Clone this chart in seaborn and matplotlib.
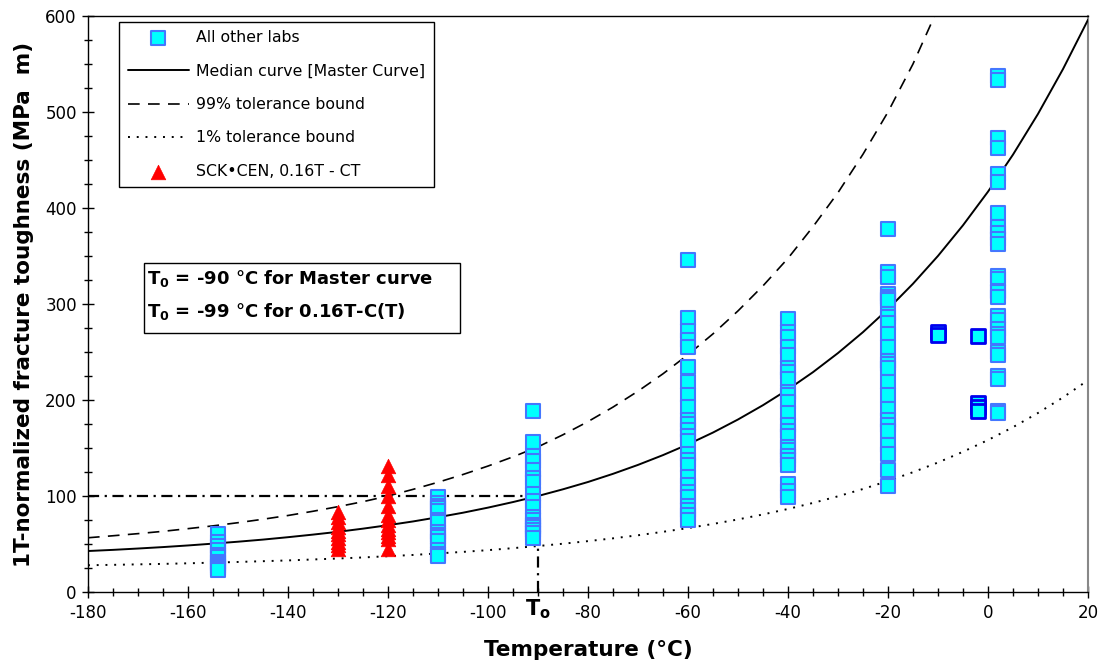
import numpy as np
import pandas as pd
import matplotlib
matplotlib.use("Agg")
import matplotlib.pyplot as plt
import seaborn as sns
from matplotlib.patches import Rectangle
from matplotlib.ticker import MultipleLocator

# temperatures of the "all other labs" columns and their toughness values
other_temps = [-154, -110, -91, -60, -40, -20, 2]
other_m154 = [60, 52, 48, 44, 39, 36, 31, 29, 27, 25, 23]
other_m110 = [99, 93, 90, 87, 84, 75, 73, 62, 59, 57, 53, 44, 40, 37]
other_m91 = [189, 156, 142, 136, 127, 119, 115, 102, 95, 89, 78, 75, 70, 68, 65, 61, 56]
other_m60 = [346, 285, 272, 262, 255, 234, 219, 205, 193, 179, 175, 169, 162, 157,
             144, 137, 132, 120, 111, 104, 99, 90, 85, 80, 75]
other_m40 = [284, 271, 266, 255, 247, 233, 229, 222, 208, 205, 198, 186, 174, 168,
             163, 151, 148, 142, 137, 132, 112, 105, 99]
other_m20 = [378, 333, 328, 310, 307, 305, 304, 290, 286, 280, 269, 255, 241, 238,
             233, 219, 205, 191, 179, 174, 168, 153, 144, 127, 110]
other_p2 = [538, 533, 473, 462, 435, 427, 395, 380, 374, 368, 362, 329, 326, 314,
            312, 307, 288, 283, 274, 269, 266, 250, 247, 225, 222, 189, 186]
other_values = [other_m154, other_m110, other_m91, other_m60, other_m40, other_m20, other_p2]

# the few points drawn with a darker edge
dark_temps = [-10, -2]
dark_m10 = [271, 268]
dark_m2 = [267, 197, 193, 189]
dark_values = [dark_m10, dark_m2]

# SCK-CEN 0.16T-CT
sck_temps = [-130, -120]
sck_m130 = [83, 78, 73, 68, 64, 60, 56, 52, 49, 45]
sck_m120 = [131, 122, 110, 100, 90, 80, 75, 70, 66, 62, 58, 55, 45]
sck_values = [sck_m130, sck_m120]

# curves read every 5 degC
curve_t = [-180, -175, -170, -165, -160, -155, -150, -145, -140, -135, -130,
           -125, -120, -115, -110, -105, -100, -95, -90, -85, -80, -75, -70,
           -65, -60, -55, -50, -45, -40, -35, -30, -25, -20, -15, -10, -5, 0,
           5, 10, 15, 20]
median_k = [42.7, 43.9, 45.3, 46.8, 48.5, 50.4, 52.4, 54.6, 57.1, 59.8, 62.7,
            66.0, 69.6, 73.5, 77.9, 82.6, 87.9, 93.7, 100.0, 107.0, 114.6, 123.1,
            132.4, 142.6, 153.8, 166.1, 179.7, 194.6, 211.0, 229.0, 248.9, 270.7,
            294.7, 321.1, 350.1, 382.0, 417.0, 455.6, 498.0, 544.7, 596.0]
upper_k = [56.5, 58.6, 60.8, 63.2, 66.0, 68.9, 72.2, 75.8, 79.7, 84.1, 88.9,
           94.1, 100.0, 106.9, 114.3, 122.4, 131.2, 140.8, 151.2, 163.8, 177.5,
           192.6, 209.2, 227.3, 247.2, 268.9, 292.8, 318.9, 347.6, 380.5, 416.0,
           456.0, 500.0, 550.0, 608.0, np.nan, np.nan, np.nan, np.nan, np.nan, np.nan]
lower_k = [27.9, 28.3, 28.8, 29.3, 29.9, 30.6, 31.3, 32.1, 32.9, 33.9, 34.9,
           36.0, 37.3, 38.6, 40.2, 41.8, 43.6, 45.7, 47.9, 50.3, 53.0, 55.9,
           59.1, 62.7, 66.6, 70.9, 75.6, 80.8, 86.5, 92.8, 99.7, 107.3, 115.7,
           124.8, 134.9, 146.1, 158.3, 171.7, 186.5, 202.7, 220.6]

T0 = -90
K_ref = 100
K_low_at_T0 = 47.9


def stack(temps, values):
    rows = []
    for t, vals in zip(temps, values):
        for v in vals:
            rows.append((t, v))
    return pd.DataFrame(rows, columns=["T", "K"])


df_other = stack(other_temps, other_values)
df_dark = stack(dark_temps, dark_values)
df_sck = stack(sck_temps, sck_values)
df_curves = pd.DataFrame({"T": curve_t, "median": median_k,
                          "upper": upper_k, "lower": lower_k})

sns.set_style("ticks")
plt.rcParams["font.family"] = ["DejaVu Sans"]
plt.rcParams["text.color"] = "black"
plt.rcParams["axes.labelcolor"] = "black"
plt.rcParams["xtick.color"] = "black"
plt.rcParams["ytick.color"] = "black"
plt.rcParams["axes.unicode_minus"] = False
plt.rcParams["mathtext.fontset"] = "custom"
plt.rcParams["mathtext.rm"] = "DejaVu Sans:bold"
plt.rcParams["mathtext.bf"] = "DejaVu Sans:bold"

fig = plt.figure(figsize=(11.05, 6.7), dpi=100)
ax = fig.add_axes([0.0796, 0.1164, 0.905, 0.8597])

# reference lines at T0
ax.plot([-180, T0], [K_ref, K_ref], color="black", lw=1.6,
        linestyle=(0, (5, 2.5, 1, 2.5)), zorder=2)
ax.plot([T0, T0], [0, K_low_at_T0], color="black", lw=1.6,
        linestyle=(0, (5, 2.5, 1, 2.5)), zorder=2)

sns.lineplot(data=df_curves, x="T", y="median", color="black", lw=1.4,
             label="Median curve [Master Curve]", ax=ax, zorder=3)
sns.lineplot(data=df_curves[["T", "upper"]].dropna(), x="T", y="upper", color="black",
             lw=1.2, linestyle=(0, (7, 5)), label="99% tolerance bound", ax=ax, zorder=3)
sns.lineplot(data=df_curves, x="T", y="lower", color="black", lw=1.4,
             linestyle=(0, (1, 3.5)), label="1% tolerance bound", ax=ax, zorder=3)

sns.scatterplot(data=df_other, x="T", y="K", marker="s", s=100, color="#00ffff",
                edgecolor="#4477ff", linewidth=1.5, label="All other labs",
                ax=ax, zorder=4)
sns.scatterplot(data=df_dark, x="T", y="K", marker="s", s=100, color="#00ffff",
                edgecolor="#0000ee", linewidth=2, ax=ax, zorder=4)
sns.scatterplot(data=df_sck, x="T", y="K", marker="^", s=110, color="#ff0000",
                edgecolor="#ff0000", linewidth=0.5, label="SCK\u2022CEN, 0.16T - CT",
                ax=ax, zorder=5)

ax.set_xlim(-180, 20)
ax.set_ylim(0, 600)
ax.xaxis.set_major_locator(MultipleLocator(20))
ax.xaxis.set_minor_locator(MultipleLocator(5))
ax.yaxis.set_major_locator(MultipleLocator(100))
ax.yaxis.set_minor_locator(MultipleLocator(25))
ax.tick_params(which="major", direction="inout", length=9, width=1, labelsize=12,
               colors="black")
ax.tick_params(which="minor", direction="inout", length=6, width=1, colors="black")
ax.tick_params(axis="x", pad=4)

ax.set_xlabel("Temperature (\u00b0C)", fontsize=15.5, fontweight="bold", labelpad=13)
ax.set_ylabel("1T-normalized fracture toughness (MPa  m)", fontsize=15.5,
              fontweight="bold", labelpad=8)

for side in ["left", "bottom", "top"]:
    ax.spines[side].set_color("black")
    ax.spines[side].set_linewidth(1)
ax.spines["right"].set_color("#888888")
ax.spines["right"].set_linewidth(1.5)

# T0 label under the axis
ax.text(T0, -0.03, r"T$_\mathbf{o}$", transform=ax.get_xaxis_transform(),
        ha="center", va="center", fontsize=15, fontweight="bold")

# T0 info box
ax.add_patch(Rectangle((0.056, 0.4497), 0.316, 0.1215, transform=ax.transAxes,
                       facecolor="white", edgecolor="black", lw=1, zorder=6))
ax.text(0.059, 0.545, r"T$_\mathbf{0}$ = -90 °C for Master curve",
        transform=ax.transAxes, fontsize=13, fontweight="bold", va="center", zorder=7)
ax.text(0.059, 0.487, r"T$_\mathbf{0}$ = -99 °C for 0.16T-C(T)",
        transform=ax.transAxes, fontsize=13, fontweight="bold", va="center", zorder=7)

handles, labels = ax.get_legend_handles_labels()
order = ["All other labs", "Median curve [Master Curve]", "99% tolerance bound",
         "1% tolerance bound", "SCK\u2022CEN, 0.16T - CT"]
hmap = dict(zip(labels, handles))
leg = ax.legend([hmap[k] for k in order], order, loc="upper left",
                bbox_to_anchor=(0.031, 0.99), borderaxespad=0, fontsize=11.3,
                frameon=True, fancybox=False, framealpha=1, edgecolor="black",
                handlelength=3.9, labelspacing=1.17, borderpad=0.55,
                handletextpad=0.45, labelcolor="black")
leg.get_frame().set_linewidth(1)
leg.set_zorder(8)

fig.savefig("out.png", dpi=100, facecolor="white")
